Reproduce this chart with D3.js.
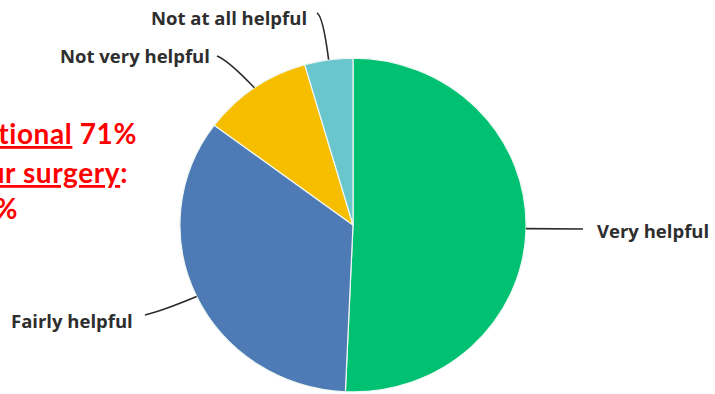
<!DOCTYPE html>
<html>
<head>
<meta charset="utf-8">
<script src="https://cdn.jsdelivr.net/npm/d3@7"></script>
<style>
  html, body { margin: 0; padding: 0; background: #ffffff; }
  svg { display: block; }
</style>
</head>
<body>
<svg id="chart" width="715" height="394"></svg>
<script>
// Survey responses: how helpful the answer was
const categories = ["Very helpful", "Fairly helpful", "Not very helpful", "Not at all helpful"];
const shares = [50.7, 34.5, 10.3, 4.5];
const colours = ["#00c171", "#4e7bb5", "#f7be00", "#68c6cc"];

// Highlighted comparison, partly off the left edge
const noteLines = [
  { underlined: "National", rest: " 71%" },
  { underlined: "Your surgery", rest: ":" },
  { underlined: "", rest: "85%" }
];

const svg = d3.select("#chart");
const cx = 353, cy = 225, r = 170;
const sx = 1.018, sy = 0.982;

const pie = d3.pie().sort(null).value(d => d.value);
const arcs = pie(categories.map((c, i) => ({ name: c, value: shares[i], colour: colours[i] })));
const arc = d3.arc().innerRadius(0).outerRadius(r);

const g = svg.append("g").attr("transform", `translate(${cx},${cy}) scale(${sx},${sy})`);
g.selectAll("path")
  .data(arcs)
  .join("path")
  .attr("d", arc)
  .attr("fill", d => d.data.colour)
  .attr("stroke", "#eef7f3")
  .attr("stroke-width", 1.2)
  .attr("vector-effect", "non-scaling-stroke");

// point on the rim at a slice's middle angle, in page coordinates
function rim(d) {
  const a = (d.startAngle + d.endAngle) / 2;
  return [cx + Math.sin(a) * r * sx, cy - Math.cos(a) * r * sy];
}

// label placement: text anchor point, and leader shape towards it
const labelLayout = [
  { x: 597, y: 238, anchor: "start", ctrl: null, end: [583, 229] },
  { x: 11, y: 328, anchor: "start", ctrl: [162, 311], end: [145, 315] },
  { x: 60, y: 63, anchor: "start", ctrl: [229, 61], end: [217, 56] },
  { x: 151, y: 25, anchor: "start", ctrl: [323, 16], end: [317, 13] }
];

const labels = svg.append("g");
arcs.forEach((d, i) => {
  const L = labelLayout[i];
  const [px, py] = rim(d);
  const path = d3.path();
  path.moveTo(px, py);
  if (L.ctrl) path.quadraticCurveTo(L.ctrl[0], L.ctrl[1], L.end[0], L.end[1]);
  else path.lineTo(L.end[0], L.end[1]);
  labels.append("path")
    .attr("d", path.toString())
    .attr("fill", "none")
    .attr("stroke", "#2b2b2b")
    .attr("stroke-width", 1.6);
  labels.append("text")
    .attr("x", L.x)
    .attr("y", L.y)
    .attr("text-anchor", L.anchor)
    .attr("font-family", "'Open Sans', 'DejaVu Sans', sans-serif")
    .attr("font-weight", 700)
    .attr("font-size", 18.5)
    .attr("fill", "#2e2e2e")
    .text(d.data.name);
});

// red comparison note
const noteRight = [137, 128, 18];
const noteBase = [144, 183, 219];
const note = svg.append("g")
  .attr("font-family", "Lato, 'Open Sans', sans-serif")
  .attr("font-weight", 700)
  .attr("font-size", 28)
  .attr("letter-spacing", 0.6)
  .attr("fill", "#ff0000");
noteLines.forEach((ln, i) => {
  const t = note.append("text")
    .attr("x", noteRight[i])
    .attr("y", noteBase[i])
    .attr("text-anchor", "end");
  if (ln.underlined) t.append("tspan").attr("text-decoration", "underline").text(ln.underlined);
  t.append("tspan").text(ln.rest);
});
</script>
</body>
</html>
